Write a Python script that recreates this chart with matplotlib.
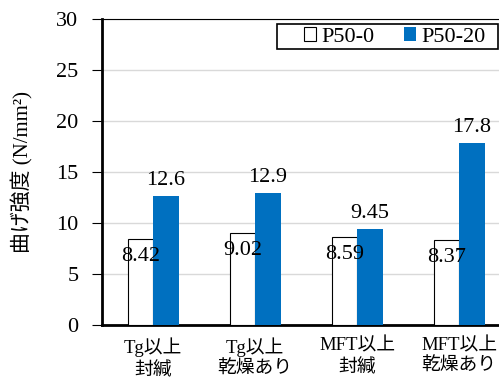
import matplotlib.pyplot as plt
import numpy as np
from matplotlib.patches import Patch, Rectangle

plt.rcParams['font.family'] = ['Liberation Serif', 'Noto Sans CJK JP']

conditions = ['Tg以上\n封緘', 'Tg以上\n乾燥あり', 'MFT以上\n封緘', 'MFT以上\n乾燥あり']
p50_0 = [8.42, 9.02, 8.59, 8.37]
p50_20 = [12.6, 12.9, 9.45, 17.8]
labels_0 = ['8.42', '9.02', '8.59', '8.37']
labels_20 = ['12.6', '12.9', '9.45', '17.8']

blue = '#0070C0'
x = np.arange(len(conditions))
w = 0.25

W, H = 499, 379
fig = plt.figure(figsize=(W / 100, H / 100), dpi=100)
ax = fig.add_axes([102 / W, 54 / H, 408 / W, 306 / H])

b0 = ax.bar(x - w / 2, p50_0, w, color='white', edgecolor='black', linewidth=0.8, zorder=3)
b1 = ax.bar(x + w / 2, p50_20, w, color=blue, zorder=3)

for rect, txt in zip(b0, labels_0):
    ax.annotate(txt, (rect.get_x() + rect.get_width() / 2, rect.get_height()),
                xytext=(0, -8), textcoords='offset pixels',
                ha='center', va='top', fontsize=16, zorder=4)
for rect, txt in zip(b1, labels_20):
    ax.annotate(txt, (rect.get_x() + rect.get_width() / 2, rect.get_height()),
                xytext=(0, 6), textcoords='offset pixels',
                ha='center', va='bottom', fontsize=16, zorder=4)

ax.set_xlim(-0.5, 3.5)
ax.set_ylim(0, 30)
ax.set_yticks(np.arange(0, 31, 5))
ax.yaxis.grid(True, color='#d9d9d9', linewidth=1, zorder=0)
ax.set_axisbelow(True)
ax.set_xticks(x)
ax.set_xticklabels(conditions, fontsize=13.5, linespacing=1.25)
ax.tick_params(axis='x', length=0, pad=9)
ax.tick_params(axis='y', labelsize=16, length=7, width=0.8, direction='out', pad=10)

for side in ['left', 'bottom']:
    ax.spines[side].set_linewidth(2)
ax.spines['top'].set_linewidth(0.8)
ax.spines['right'].set_visible(False)

ax.set_ylabel('曲げ強度 (N/mm²)', fontsize=15, labelpad=16)

# legend: entries without frame, box drawn around them
handles = [Patch(facecolor='white', edgecolor='black', linewidth=0.8),
           Patch(facecolor=blue)]
leg = fig.legend(handles, ['P50-0', 'P50-20'], loc='center left',
                 bbox_to_anchor=(304 / W, 1 - 37 / H), ncol=2, fontsize=16,
                 frameon=False, handlelength=0.55, handleheight=0.55,
                 handletextpad=0.25, columnspacing=1.3, borderpad=0,
                 borderaxespad=0)
fig.patches.append(Rectangle((277 / W, 1 - 49 / H), 221 / W, 25 / H,
                             transform=fig.transFigure, facecolor='white',
                             edgecolor='black', linewidth=1.2, zorder=1))

fig.savefig('out.png', dpi=100)
